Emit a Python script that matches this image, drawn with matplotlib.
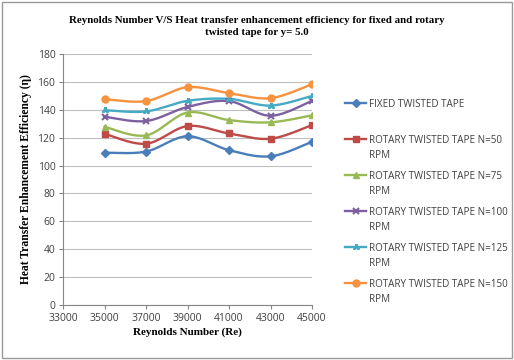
import numpy as np
import matplotlib
matplotlib.use("Agg")
import matplotlib.pyplot as plt
from matplotlib.legend_handler import HandlerLine2D
from matplotlib.patches import Rectangle

# ─── data ───────────────────────────────────────────────────────────────────
reynolds = [35000, 37000, 39000, 41000, 43000, 45000]

fixed_tape = [109.2, 110.0, 121.0, 111.0, 106.6, 117.0]
rot_50     = [122.8, 115.6, 128.3, 123.0, 119.2, 129.0]
rot_75     = [127.8, 121.6, 138.0, 132.6, 131.0, 136.0]
rot_100    = [135.0, 131.9, 142.0, 146.2, 135.7, 146.4]
rot_125    = [139.7, 138.8, 146.4, 147.8, 143.0, 149.9]
rot_150    = [147.6, 146.2, 156.2, 151.9, 148.3, 158.3]

labels = [
    "FIXED TWISTED TAPE\n ",
    "ROTARY TWISTED TAPE N=50\nRPM",
    "ROTARY TWISTED TAPE N=75\nRPM",
    "ROTARY TWISTED TAPE N=100\nRPM",
    "ROTARY TWISTED TAPE N=125\nRPM",
    "ROTARY TWISTED TAPE N=150\nRPM",
]
x_ticks = [33000, 35000, 37000, 39000, 41000, 43000, 45000]
y_ticks = [0, 20, 40, 60, 80, 100, 120, 140, 160, 180]

# ─── styles ─────────────────────────────────────────────────────────────────
STYLES = [
    dict(color="#4A7EBB", marker="D", ms=3.6),
    dict(color="#BE4B48", marker="s", ms=4.6),
    dict(color="#98B954", marker="^", ms=5.0),
    dict(color="#7D60A0", marker="x", ms=4.6, mew=1.5),
    dict(color="#46AAC5", marker=(3, 2, 0), ms=5.0, mew=1.7),
    dict(color="#F69240", marker="o", ms=5.0),
]
SERIF = ["Liberation Serif", "DejaVu Serif"]
SANS  = ["Open Sans", "DejaVu Sans"]


def smooth(x, y, n=30):
    """Excel-like smoothed line (Catmull-Rom through the points)."""
    x = np.asarray(x, float); y = np.asarray(y, float)
    px = np.r_[x[0], x, x[-1]]; py = np.r_[y[0], y, y[-1]]
    xs, ys = [], []
    t = np.linspace(0, 1, n)
    for i in range(1, len(px) - 2):
        p0, p1, p2, p3 = [np.array([px[j], py[j]]) for j in (i - 1, i, i + 1, i + 2)]
        c1 = p1 + (p2 - p0) / 6
        c2 = p2 - (p3 - p1) / 6
        b = ((1 - t) ** 3)[:, None] * p1 + (3 * (1 - t) ** 2 * t)[:, None] * c1 \
            + (3 * (1 - t) * t ** 2)[:, None] * c2 + (t ** 3)[:, None] * p2
        xs.append(b[:, 0]); ys.append(b[:, 1])
    return np.concatenate(xs), np.concatenate(ys)


class FirstLineHandler(HandlerLine2D):
    """Puts the legend marker beside the first line of a two-line label."""
    def __init__(self, shift, **kw):
        super().__init__(**kw)
        self.shift = shift

    def create_artists(self, legend, orig_handle, xdescent, ydescent,
                       width, height, fontsize, trans):
        arts = super().create_artists(legend, orig_handle, xdescent, ydescent,
                                      width, height, fontsize, trans)
        for a in arts:
            a.set_ydata(np.asarray(a.get_ydata()) + self.shift)
        return arts


fig = plt.figure(figsize=(5.14, 3.6), dpi=100)
ax = fig.add_axes([0.1226, 0.153, 0.4844, 0.697])

series = [fixed_tape, rot_50, rot_75, rot_100, rot_125, rot_150]
handles = []
for vals, st in zip(series, STYLES):
    sx, sy = smooth(reynolds, vals)
    ax.plot(sx, sy, color=st["color"], lw=1.7, zorder=3)
    ax.plot(reynolds, vals, ls="none", zorder=4, mec=st["color"],
            mfc=st["color"], **st)
    h, = ax.plot([], [], lw=1.7, mec=st["color"], mfc=st["color"], **st)
    handles.append(h)

ax.set_xlim(33000, 45000)
ax.set_ylim(0, 180)
ax.set_xticks(x_ticks)
ax.set_yticks(y_ticks)
ax.tick_params(labelsize=7.5, colors="#404040", length=3, width=0.8,
               color="#868686", pad=2.5)
for t in ax.get_xticklabels() + ax.get_yticklabels():
    t.set_family(SANS)
ax.grid(axis="y", color="#BFBFBF", lw=0.8)
ax.set_axisbelow(True)
for s in ("top", "right"):
    ax.spines[s].set_visible(False)
for s in ("left", "bottom"):
    ax.spines[s].set_color("#868686")
    ax.spines[s].set_linewidth(0.8)

ax.set_xlabel("Reynolds Number (Re)", family=SERIF, fontweight="bold",
              fontsize=8, labelpad=3)
ax.set_ylabel("Heat Transfer Enhancement Efficiency (\u03b7)", family=SERIF,
              fontweight="bold", fontsize=8.4)
ax.yaxis.set_label_coords(-0.124, 0.5)

fig.text(0.5, 0.955, "Reynolds Number V/S Heat transfer enhancement efficiency "
         "for fixed and rotary\ntwisted tape for y= 5.0", ha="center", va="top",
         family=SERIF, fontweight="bold", fontsize=7.8, linespacing=1.45)

leg = fig.legend(handles, labels, loc="upper left",
                 bbox_to_anchor=(0.662, 0.738), frameon=False,
                 prop={"family": SANS, "size": 7.1}, handlelength=2.1,
                 handletextpad=0.3, labelspacing=1.05, borderpad=0,
                 handler_map={h: FirstLineHandler(6.9) for h in handles})
for t in leg.get_texts():
    t.set_linespacing(1.45)
    t.set_color("#404040")

fig.patches.append(Rectangle((0.004, 0.006), 0.992, 0.988, transform=fig.transFigure,
                             fill=False, ec="#9a9a9a", lw=1.0))

fig.savefig("out.png", dpi=100)
